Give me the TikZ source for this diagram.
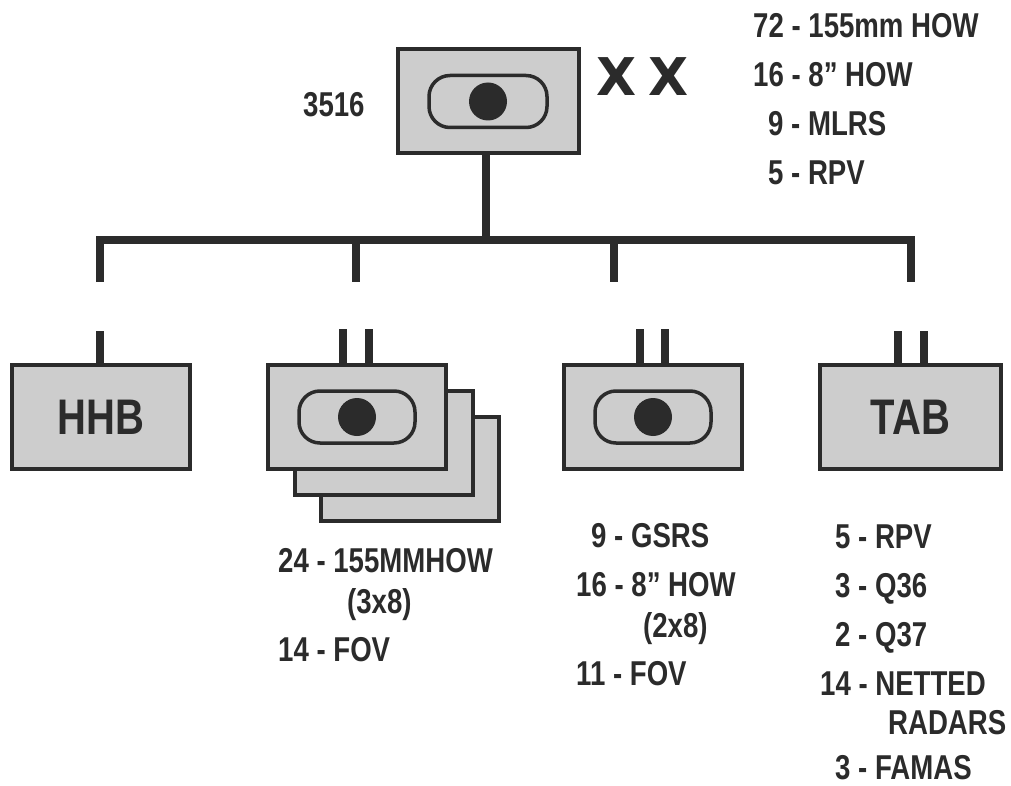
\documentclass[tikz,border=0pt]{standalone}
\usepackage{fontspec}
\setmainfont[FakeStretch=0.8]{Liberation Sans}
\newfontfamily\echelonfont{DejaVu Sans}
\usepackage{tikz}
\usetikzlibrary{positioning}
\definecolor{UnitGray}{HTML}{CDCDCD}
\definecolor{UnitInk}{HTML}{2B2B2B}

\begin{document}
\begin{tikzpicture}[
    x=1pt, y=-1pt,
    unitbox/.style={rectangle, draw=UnitInk, fill=UnitGray, line width=4pt, minimum width=178pt, minimum height=104pt, inner sep=0pt, outer sep=0pt, text=UnitInk, font=\fontsize{50}{50}\selectfont\bfseries},
    pill/.style={rectangle, draw=UnitInk, fill=UnitGray, line width=3.5pt, rounded corners=21pt, minimum width=116pt, minimum height=52pt, inner sep=0pt},
    dot/.style={circle, fill=UnitInk, minimum size=38pt, inner sep=0pt},
    link/.style={draw=UnitInk, line width=8pt},
    label/.style={anchor=base west, inner sep=0pt, text=UnitInk, font=\fontsize{34.5}{34.5}\selectfont\bfseries},
    echelon/.style={inner sep=0pt, text=UnitInk, font=\echelonfont\fontsize{52}{52}\selectfont\bfseries}
]
\useasboundingbox (0,0) rectangle (1011,786);

% Top Layer: Division
\node[unitbox, minimum width=181pt] (div) at (488,101.5) {};
\node[pill, minimum width=118pt] (divpill) at (div.center) {};
\node[dot] (divdot) at (div.center) {};
\node[echelon] (xa) at (617,77) {X};
\node[echelon, right=11pt of xa] (xb) {X};
\node[label] (divnum) at (303,117) {3516};

% Top Layer: Holdings
\node[label] (hold1) at (753,38) {72 - 155mm HOW};
\node[label] (hold2) at (753,87) {16 - 8” HOW};
\node[label] (hold3) at (768,136) {9 - MLRS};
\node[label] (hold4) at (768,185) {5 - RPV};

% Bottom Layer: Rear Batteries
\node[unitbox] (bnc) at (410,468.5) {};
\node[unitbox] (bnb) at (383.5,442.5) {};

% Bottom Layer: Units
\node[unitbox] (hhb) at (101,417) {HHB};
\node[unitbox, right=78pt of hhb] (bna) {};
\node[pill] (bnapill) at (bna.center) {};
\node[dot] (bnadot) at (bna.center) {};
\node[unitbox, right=118pt of bna] (gsb) {};
\node[pill] (gsbpill) at (gsb.center) {};
\node[dot] (gsbdot) at (gsb.center) {};
\node[unitbox, minimum width=181pt, right=78pt of gsb] (tab) {TAB};

% Bottom Layer: Holdings
\node[label] (bnhold1) at (278,572) {24 - 155MMHOW};
\node[label] (bnhold2) at (347,613) {(3x8)};
\node[label] (bnhold3) at (278,661) {14 - FOV};
\node[label] (gshold1) at (591,547) {9 - GSRS};
\node[label] (gshold2) at (576,596) {16 - 8” HOW};
\node[label] (gshold3) at (643,637) {(2x8)};
\node[label] (gshold4) at (576,685) {11 - FOV};
\node[label] (tabhold1) at (835,548) {5 - RPV};
\node[label] (tabhold2) at (835,597) {3 - Q36};
\node[label] (tabhold3) at (835,646) {2 - Q37};
\node[label] (tabhold4) at (820,695) {14 - NETTED};
\node[label] (tabhold5) at (888,734) {RADARS};
\node[label] (tabhold6) at (835,779) {3 - FAMAS};

% Bus
\coordinate (busa) at (100,240);
\coordinate (busb) at (356,240);
\coordinate (busc) at (614,240);
\coordinate (busd) at (911,240);
\coordinate (dropa) at (100,282);
\coordinate (dropb) at (356,282);
\coordinate (dropc) at (614,282);
\coordinate (dropd) at (911,282);
\coordinate (stem) at (486,240);
\coordinate (stuba) at (100,331);
\coordinate (stubb) at (343,329);
\coordinate (stubc) at (369,329);
\coordinate (stubd) at (640,329);
\coordinate (stube) at (665,329);
\coordinate (stubf) at (898,331);
\coordinate (stubg) at (924,331);

% Connections
\draw[link] (stem |- div.south) -- (stem);
\draw[link] (dropa) -- (busa) -- (busd) -- (dropd);
\draw[link] (busb) -- (dropb);
\draw[link] (busc) -- (dropc);
\draw[link] (stuba) -- (stuba |- hhb.north);
\draw[link] (stubb) -- (stubb |- bna.north);
\draw[link] (stubc) -- (stubc |- bna.north);
\draw[link] (stubd) -- (stubd |- gsb.north);
\draw[link] (stube) -- (stube |- gsb.north);
\draw[link] (stubf) -- (stubf |- tab.north);
\draw[link] (stubg) -- (stubg |- tab.north);

\end{tikzpicture}
\end{document}
